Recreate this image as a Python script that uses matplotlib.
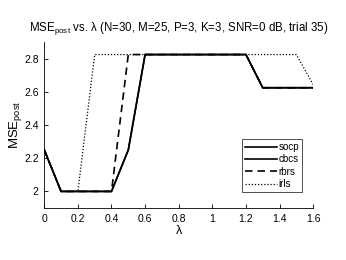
import numpy as np
import matplotlib.pyplot as plt

plt.rcParams['font.family'] = ['Liberation Sans', 'DejaVu Sans']

# lambda grid and MSE_post values for each method
lam = [0.0, 0.1, 0.2, 0.3, 0.4, 0.5, 0.6, 0.7, 0.8, 0.9, 1.0, 1.1, 1.2, 1.3, 1.4, 1.5, 1.6]
socp = [2.25, 2.0, 2.0, 2.0, 2.0, 2.25, 2.825, 2.825, 2.825, 2.825, 2.825, 2.825, 2.825, 2.625, 2.625, 2.625, 2.625]
cbcs = [2.25, 2.0, 2.0, 2.0, 2.0, 2.25, 2.825, 2.825, 2.825, 2.825, 2.825, 2.825, 2.825, 2.625, 2.625, 2.625, 2.625]
rbrs = [2.25, 2.0, 2.0, 2.0, 2.0, 2.825, 2.825, 2.825, 2.825, 2.825, 2.825, 2.825, 2.825, 2.625, 2.625, 2.625, 2.625]
irls = [2.25, 2.0, 2.0, 2.825, 2.825, 2.825, 2.825, 2.825, 2.825, 2.825, 2.825, 2.825, 2.825, 2.825, 2.825, 2.825, 2.645]

xticks = [0, 0.2, 0.4, 0.6, 0.8, 1, 1.2, 1.4, 1.6]
yticks = [2, 2.2, 2.4, 2.6, 2.8]

fig = plt.figure(figsize=(3.46, 2.6), dpi=100)
ax = fig.add_axes([0.128, 0.2, 0.777, 0.638])

ax.plot(lam, socp, color='black', linewidth=1.2, label='socp')
ax.plot(lam, cbcs, color='black', linewidth=1.2, label='cbcs')
ax.plot(lam, rbrs, color='black', linewidth=1.2, linestyle=(0, (4.5, 3)), label='rbrs')
ax.plot(lam, irls, color='black', linewidth=0.9, linestyle=(0, (1, 1.5)), label='irls')

ax.set_xlim(0, 1.6)
ax.set_ylim(1.9, 2.9)
ax.set_xticks(xticks)
ax.set_xticklabels(['0', '0.2', '0.4', '0.6', '0.8', '1', '1.2', '1.4', '1.6'])
ax.set_yticks(yticks)
ax.set_yticklabels(['2', '2.2', '2.4', '2.6', '2.8'])
ax.tick_params(direction='in', length=3, width=0.6, labelsize=7.5, pad=4)

ax.spines['top'].set_visible(False)
ax.spines['right'].set_visible(False)
for s in ['left', 'bottom']:
    ax.spines[s].set_linewidth(0.6)

ax.set_title('MSE$_{\\mathregular{post}}$ vs. λ (N=30, M=25, P=3, K=3, SNR=0 dB, trial 35)',
             fontsize=8.3, pad=8)
ax.set_xlabel('λ', fontsize=9, labelpad=1)
ax.set_ylabel('MSE$_{\\mathregular{post}}$', fontsize=9.5, labelpad=0)

leg = ax.legend(loc='lower right', bbox_to_anchor=(0.96, 0.095), fontsize=7,
                frameon=True, fancybox=False, edgecolor='black', handlelength=3.3,
                handletextpad=0.15, borderpad=0.3, labelspacing=0.25, borderaxespad=0)
leg.get_frame().set_linewidth(0.6)

fig.savefig('out.png', dpi=100)
